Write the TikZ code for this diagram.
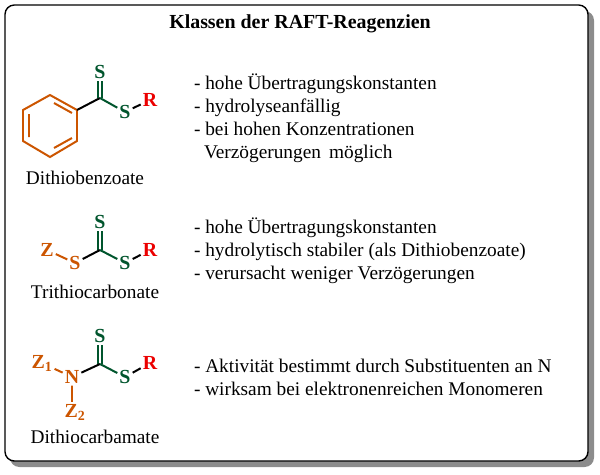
\documentclass[tikz,border=0pt]{standalone}
\usepackage{fontspec}
\setmainfont{Liberation Serif}
\definecolor{zorange}{RGB}{204,85,0}
\definecolor{sgreen}{RGB}{0,85,45}
\definecolor{rred}{RGB}{235,0,0}
\begin{document}
\begin{tikzpicture}[x=0.03cm, y=-0.03cm, line width=1.7pt,
    atom/.style={inner sep=1pt, font=\fontsize{17}{17}\selectfont\bfseries},
    satom/.style={atom, text=sgreen},
    zatom/.style={atom, text=zorange},
    ratom/.style={atom, text=rred},
    info/.style={anchor=base west, inner sep=0pt, font=\fontsize{16.5}{19}\selectfont},
    molname/.style={inner sep=0pt, font=\fontsize{16.5}{19}\selectfont}]
    \useasboundingbox (0,0) rectangle (600,474);
    % frame with shadow
    \fill [black!45, rounded corners=8] (10,11) rectangle (594,467);
    \draw [fill=white, rounded corners=8, line width=1.2pt] (5,5) rectangle (588,461);
    \node [inner sep=0pt, font=\fontsize{17}{19}\selectfont\bfseries] (title) at (300,24) {Klassen der RAFT-Reagenzien};

    % Dithiobenzoate
    \draw [zorange] (50,95) -- (77,110) -- (77,141) -- (50,157) -- (23,141) -- (23,110) -- cycle;
    \draw [zorange] (29,114) -- (29,137) (54,103) -- (72,113) (54,148) -- (72,138);
    \coordinate (c1) at (100,98);
    \node [satom] (s1a) at (100,72) {S};
    \node [satom] (s1b) at (125,112) {S};
    \node [ratom] (r1) at (150,100) {R};
    \draw (77,110) -- (c1);
    \draw [sgreen] ([xshift=-1.5pt]c1) -- ([xshift=-1.5pt]s1a.south) ([xshift=1.5pt]c1) -- ([xshift=1.5pt]s1a.south);
    \draw [sgreen] (c1) -- (s1b);
    \draw (s1b) -- (r1);
    \node [molname] (n1) at (85,178) {Dithiobenzoate};

    % Trithiocarbonate
    \coordinate (c2) at (100,250);
    \node [satom] (s2a) at (100,222) {S};
    \node [zatom] (s2z) at (75,263) {S};
    \node [zatom] (z2) at (47,250) {Z};
    \node [satom] (s2b) at (125,263) {S};
    \node [ratom] (r2) at (150,250) {R};
    \draw [sgreen] ([xshift=-1.5pt]c2) -- ([xshift=-1.5pt]s2a.south) ([xshift=1.5pt]c2) -- ([xshift=1.5pt]s2a.south);
    \draw (s2z) -- (c2);
    \draw [sgreen] (c2) -- (s2b);
    \draw [zorange] (z2) -- (s2z);
    \draw (s2b) -- (r2);
    \node [molname] (n2) at (95,292) {Trithiocarbonate};

    % Dithiocarbamate
    \coordinate (c3) at (100,364);
    \node [satom] (s3a) at (100,336) {S};
    \node [zatom] (n3) at (72,377) {N};
    \node [zatom] (z31) at (42,363) {Z$_\mathbf{1}$};
    \node [zatom] (z32) at (75,412) {Z$_\mathbf{2}$};
    \node [satom] (s3b) at (125,377) {S};
    \node [ratom] (r3) at (150,363) {R};
    \draw [sgreen] ([xshift=-1.5pt]c3) -- ([xshift=-1.5pt]s3a.south) ([xshift=1.5pt]c3) -- ([xshift=1.5pt]s3a.south);
    \draw (n3) -- (c3);
    \draw [sgreen] (c3) -- (s3b);
    \draw [zorange] (z31) -- (n3) (n3.south) -- (n3.south |- z32.north);
    \draw (s3b) -- (r3);
    \node [molname] (n3l) at (95,437) {Dithiocarbamate};

    % Properties
    \node [info] (p1) at (193,89) {- hohe Übertragungskonstanten};
    \node [info] (p2) at (193,112) {- hydrolyseanfällig};
    \node [info] (p3) at (193,135) {- bei hohen Konzentrationen};
    \node [info] (p4) at (203,158) {Verzögerungen\, möglich};
    \node [info] (q1) at (193,233) {- hohe Übertragungskonstanten};
    \node [info] (q2) at (193,256) {- hydrolytisch stabiler (als Dithiobenzoate)};
    \node [info] (q3) at (193,279) {- verursacht weniger Verzögerungen};
    \node [info] (t1) at (193,372) {- Aktivität bestimmt durch Substituenten an N};
    \node [info] (t2) at (193,395) {- wirksam bei elektronenreichen Monomeren};
\end{tikzpicture}
\end{document}
